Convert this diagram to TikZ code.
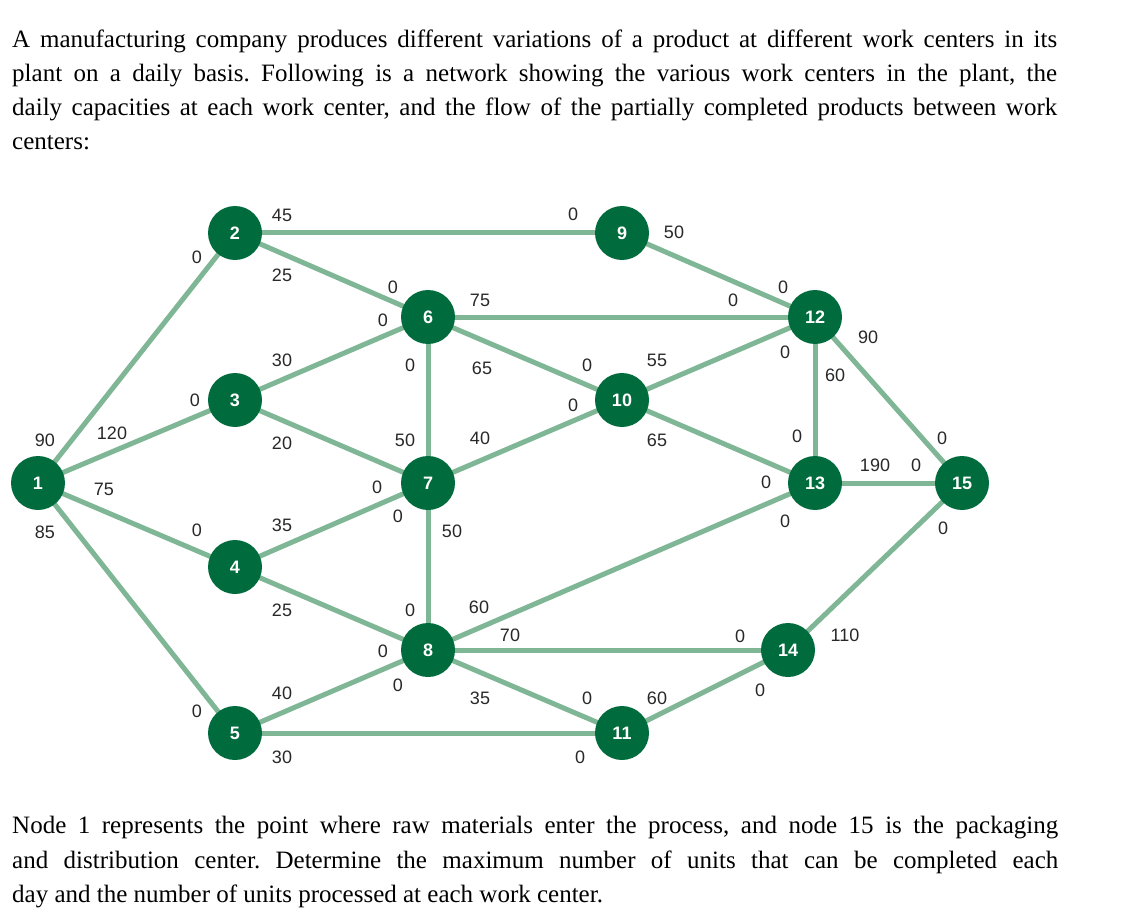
\documentclass[tikz,border=0pt]{standalone}
\usepackage{fontspec}
\setmainfont{Liberation Serif}
\newfontfamily\lsans{Liberation Sans}
\definecolor{edge}{RGB}{127,182,150}
\definecolor{nodeg}{RGB}{0,107,60}
\definecolor{lab}{RGB}{40,40,40}
\frenchspacing
\begin{document}
\begin{tikzpicture}[x=1pt,y=-1pt,
  wc/.style={circle,fill=nodeg,minimum size=54pt,inner sep=0pt,text=white,font=\lsans\bfseries\fontsize{18}{18}\selectfont},
  e/.style={draw=edge,line width=5pt},
  l/.style={text=lab,font=\lsans\fontsize{18}{18}\selectfont,inner sep=0pt},
  para/.style={anchor=base west,inner sep=0pt,font=\fontsize{25}{28}\selectfont,text=black}]
\useasboundingbox (0,0) rectangle (1132,917);
\node[para] (t1) at (12,48) {\makebox[1045pt][s]{A manufacturing company produces different variations of a product at different work centers in its}};
\node[para] (t2) at (12,82) {\makebox[1045pt][s]{plant on a daily basis. Following is a network showing the various work centers in the plant, the}};
\node[para] (t3) at (12,116) {\makebox[1045pt][s]{daily capacities at each work center, and the flow of the partially completed products between work}};
\node[para] (t4) at (12,150) {centers:};
\node[para] (b1) at (12,833) {\makebox[1046pt][s]{Node 1 represents the point where raw materials enter the process, and node 15 is the packaging}};
\node[para] (b2) at (12,868) {\makebox[1046pt][s]{and distribution center. Determine the maximum number of units that can be completed each}};
\node[para] (b3) at (12,902) {day and the number of units processed at each work center.};
\coordinate (p1) at (38,483); \coordinate (p2) at (235,233); \coordinate (p3) at (235,400);
\coordinate (p4) at (235,567); \coordinate (p5) at (235,733); \coordinate (p6) at (428,317);
\coordinate (p7) at (428,483); \coordinate (p8) at (428,650); \coordinate (p9) at (622,233);
\coordinate (p10) at (622,400); \coordinate (p11) at (622,733); \coordinate (p12) at (815,317);
\coordinate (p13) at (815,483); \coordinate (p14) at (788,650); \coordinate (p15) at (962,483);
\foreach \a/\b in {1/2,1/3,1/4,1/5,2/9,2/6,3/6,3/7,4/7,4/8,5/8,5/11,6/12,6/10,6/7,7/10,7/8,8/13,8/14,8/11,10/12,10/13,9/12,12/13,12/15,13/15,14/15,11/14}
  \draw[e] (p\a) -- (p\b);
\foreach \i in {1,...,15} \node[wc] (n\i) at (p\i) {\i};
\foreach \x/\y/\t [count=\k] in {282/215/45,197/257/0,282/275/25,393/287/0,383/320/0,480/300/75,573/214/0,674/232/50,733/300/0,783/287/0,868/337/90,785/352/0,835/375/60,282/360/30,195/400/0,410/365/0,482/368/65,587/365/0,657/360/55,573/405/0,45/440/90,112/433/120,282/443/20,405/440/50,480/438/40,657/440/65,797/436/0,942/438/0,875/465/190,916/465/0,104/489/75,377/487/0,766/482/0,398/516/0,785/521/0,943/528/0,45/532/85,197/530/0,282/525/35,452/531/50,282/610/25,410/610/0,479/607/60,510/635/70,383/651/0,740/636/0,845/635/110,282/693/40,398/685/0,480/698/35,587/698/0,657/698/60,760/690/0,197/711/0,282/757/30,580/757/0}
  \node[l] (lab\k) at (\x,\y) {\t};
\end{tikzpicture}
\end{document}
